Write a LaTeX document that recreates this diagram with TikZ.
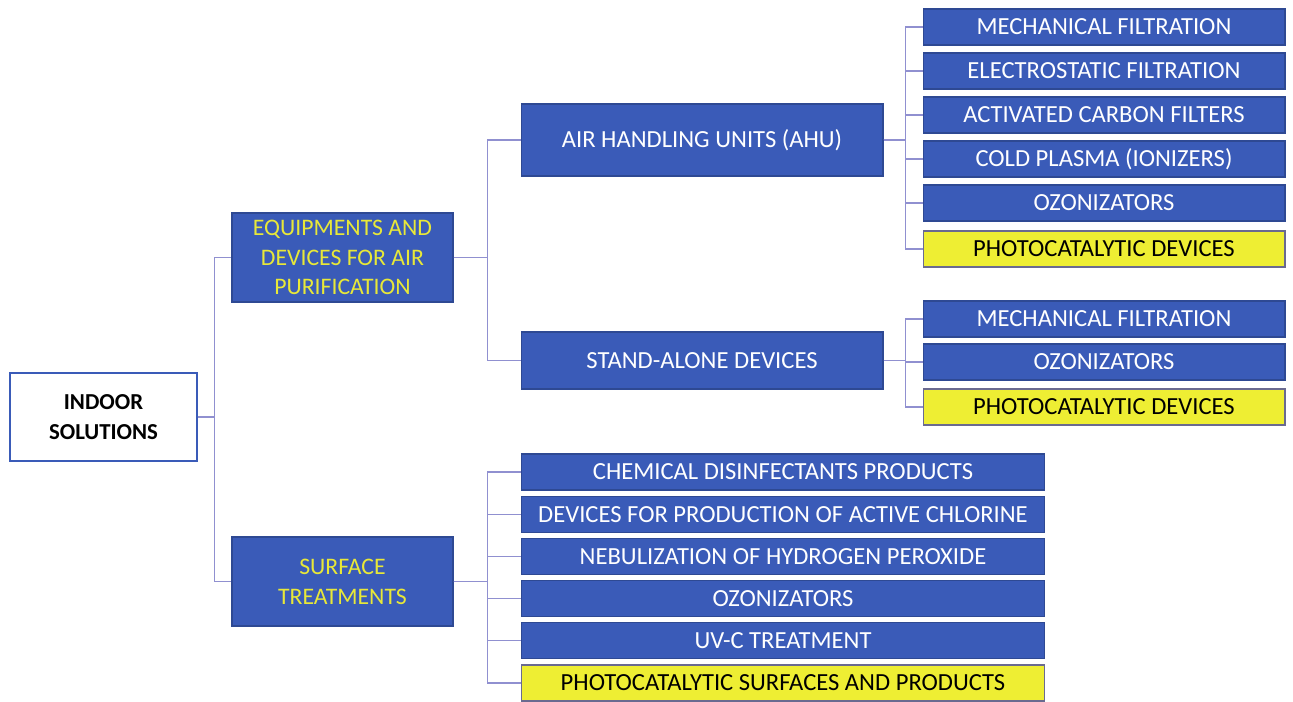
\documentclass[tikz,border=0pt]{standalone}
\usepackage{fontspec}
\setmainfont{Carlito}
\definecolor{boxblue}{HTML}{3A5BB8}
\definecolor{boxyellow}{HTML}{EEEE33}
\definecolor{textyellow}{HTML}{E8E838}
\definecolor{linkblue}{HTML}{9090D0}
\definecolor{rimgrey}{HTML}{6A6A90}

\tikzset{
  bluebox/.style={draw=boxblue!80!black, fill=boxblue, text=white, line width=0.6pt,
    minimum width=7.24cm, minimum height=0.72cm, inner sep=0pt, align=center,
    font=\fontsize{14}{16}\selectfont},
  yellowbox/.style={bluebox, fill=boxyellow, draw=rimgrey, text=black},
  groupbox/.style={bluebox, minimum width=4.42cm, minimum height=1.78cm,
    text=textyellow, font=\fontsize{13.5}{17}\selectfont},
  link/.style={draw=linkblue, line width=0.6pt}
}

\begin{document}
\begin{tikzpicture}[x=0.02cm, y=-0.02cm]
  \useasboundingbox (0,0) rectangle (1293,702);

  % Root
  \node[draw=boxblue, fill=white, line width=0.6pt, minimum width=3.74cm, minimum height=1.76cm,
    align=center, font=\fontsize{13}{17}\selectfont\bfseries] (root) at (103.5,417)
    {INDOOR\\SOLUTIONS};

  % Second level
  \node[groupbox] (equip) at (342.5,257.5) {EQUIPMENTS AND\\DEVICES FOR AIR\\PURIFICATION};
  \node[groupbox] (surf) at (342.5,581.5) {SURFACE\\TREATMENTS};

  % Third level
  \node[bluebox, minimum height=1.44cm] (ahu) at (702,140) {AIR HANDLING UNITS (AHU)};
  \node[bluebox, minimum height=1.14cm] (stand) at (702,360.5) {STAND-ALONE DEVICES};

  % Leaves of AHU
  \foreach \lbl [count=\i] in {MECHANICAL FILTRATION, ELECTROSTATIC FILTRATION,
      ACTIVATED CARBON FILTERS, COLD PLASMA (IONIZERS), OZONIZATORS}
    \node[bluebox] (ahu\i) at (1104,{27+44*(\i-1)}) {\lbl};
  \node[yellowbox] (ahu6) at (1104,249) {PHOTOCATALYTIC DEVICES};

  % Leaves of stand-alone devices
  \node[bluebox] (sa1) at (1104,319) {MECHANICAL FILTRATION};
  \node[bluebox] (sa2) at (1104,362) {OZONIZATORS};
  \node[yellowbox] (sa3) at (1104,407) {PHOTOCATALYTIC DEVICES};

  % Leaves of surface treatments
  \foreach \lbl [count=\i] in {CHEMICAL DISINFECTANTS PRODUCTS,
      DEVICES FOR PRODUCTION OF ACTIVE CHLORINE, NEBULIZATION OF HYDROGEN PEROXIDE,
      OZONIZATORS, UV-C TREATMENT}
    \node[bluebox, minimum width=10.48cm] (st\i) at (783,{472+42.2*(\i-1)}) {\lbl};
  \node[yellowbox, minimum width=10.48cm] (st6) at (783,683) {PHOTOCATALYTIC SURFACES AND PRODUCTS};

  % Connectors
  \foreach \kid in {equip, surf}
    \draw[link] (root.east) -- ++(17,0) |- (\kid.west);
  \foreach \kid in {ahu, stand}
    \draw[link] (equip.east) -- ++(34,0) |- (\kid.west);
  \foreach \i in {1,...,6}
    \draw[link] (ahu.east) -- ++(22,0) |- (ahu\i.west);
  \foreach \i in {1,...,3}
    \draw[link] (stand.east) -- ++(22,0) |- (sa\i.west);
  \foreach \i in {1,...,6}
    \draw[link] (surf.east) -- ++(34,0) |- (st\i.west);
\end{tikzpicture}
\end{document}
